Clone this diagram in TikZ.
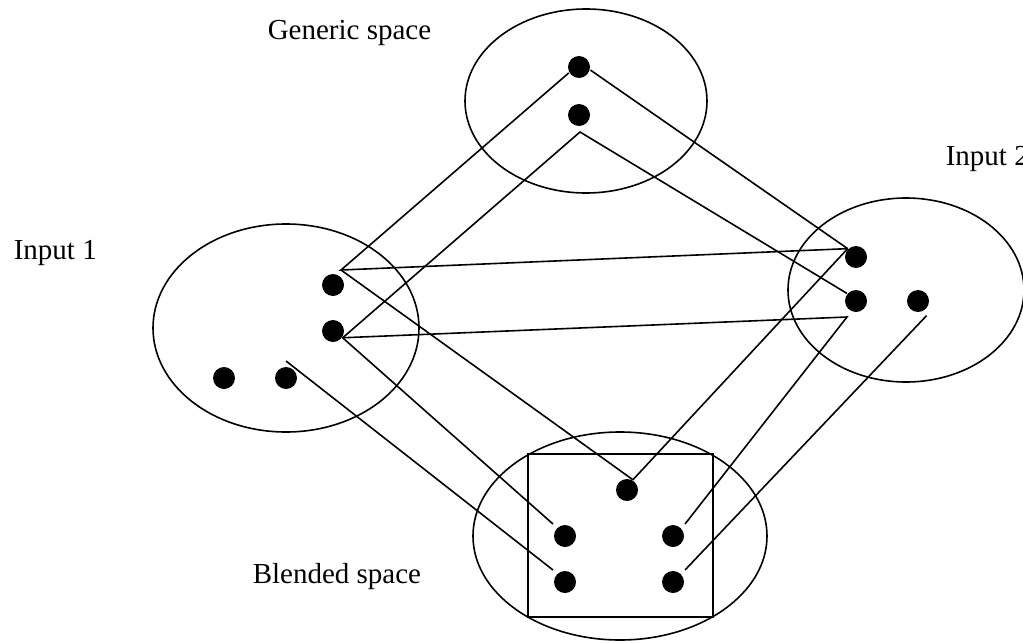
\documentclass[tikz,border=0pt]{standalone}
\usepackage{fontspec}
\setmainfont{Liberation Serif}

\begin{document}
\begin{tikzpicture}[x = 1pt, y = -1pt, line width = 1.6pt,
    dot/.style = {shape = circle, fill = black, inner sep = 0pt, minimum size = 22pt},
    far dot/.style = {dot, outer sep = 6pt},
    space label/.style = {inner sep = 0pt, anchor = base west, font = \fontsize{29}{34}\selectfont}]
    \useasboundingbox (0,0) rectangle (1023,643);

    \draw (586,101) ellipse [x radius = 121pt, y radius = 92pt];
    \draw (286,328) ellipse [x radius = 133pt, y radius = 104pt];
    \draw (906,290) ellipse [x radius = 118pt, y radius = 92pt];
    \draw (620,536) ellipse [x radius = 147pt, y radius = 104pt];
    \draw (528,454) rectangle (713,617);

    \node[space label] (generic) at (267,39) {Generic space};
    \node[space label] (input1) at (13,259) {Input 1};
    \node[space label] (input2) at (945,165) {Input 2};
    \node[space label] (blended) at (252,583) {Blended space};

    \node[dot] (gA) at (579,67) {};
    \node[dot] (gB) at (579,115) {};
    \node[dot] (iA) at (333,285) {};
    \node[dot] (iB) at (333,331) {};
    \node[dot] (iC) at (224,378) {};
    \node[far dot] (iD) at (286,378) {};
    \node[dot] (jA) at (856,257) {};
    \node[dot] (jB) at (856,301) {};
    \node[far dot] (jC) at (918,301) {};
    \node[dot] (bA) at (627,490) {};
    \node[far dot] (bB) at (565,536) {};
    \node[far dot] (bC) at (565,582) {};
    \node[far dot] (bD) at (673,536) {};
    \node[far dot] (bE) at (673,582) {};

    \coordinate (kA) at (341,270);
    \coordinate (kB) at (580,132);
    \coordinate (kC) at (847,317);

    \draw (gA.210) -- (kA) -- (jA.north west);
    \draw (kA) -- (bA.60);
    \draw (gA.-15) -- (jA.north west);
    \draw (iB.-35) -- (kB) -- (jB.140);
    \draw (iB.-35) -- (kC) -- (bD.north east);
    \draw (iB.-35) -- (bB.north west);
    \draw (iD.north) -- (bC.north west);
    \draw (bA.60) -- (jA.north west);
    \draw (jC.-60) -- (bE.north east);
\end{tikzpicture}
\end{document}
